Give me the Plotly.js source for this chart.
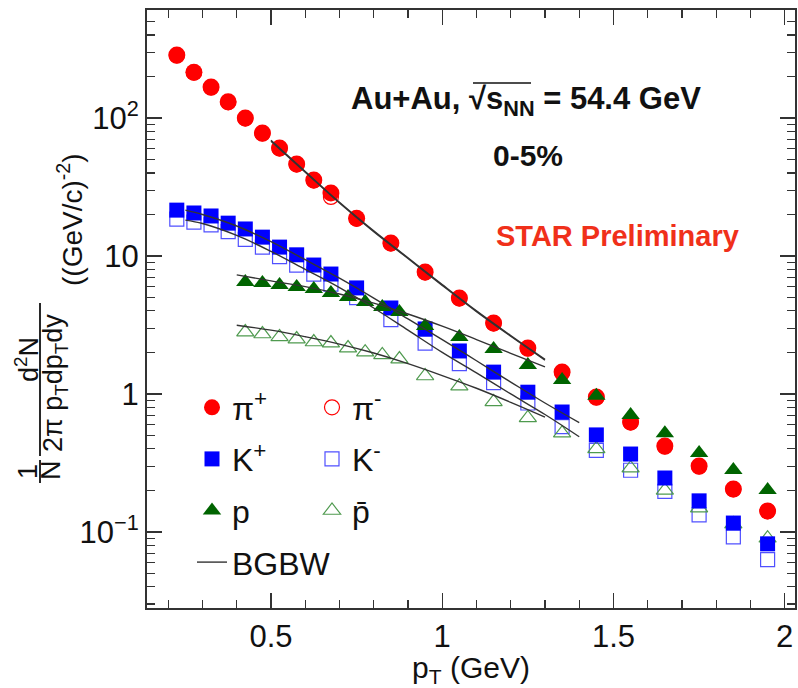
<!DOCTYPE html>
<html><head><meta charset="utf-8">
<script src="https://cdn.plot.ly/plotly-3.0.1.min.js"></script>
<style>html,body{margin:0;padding:0;background:#fff}#chart{width:798px;height:688px}</style>
</head><body><div id="chart"></div>
<script>
// ---- data ----
const pionPt = [0.225,0.275,0.325,0.375,0.425,0.475,0.525,0.575,0.625,0.675,0.75,0.85,0.95,1.05,1.15,1.25,1.35,1.45,1.55,1.65,1.75,1.85,1.95];
const kaonPt = [0.225,0.275,0.325,0.375,0.425,0.475,0.525,0.575,0.625,0.675,0.75,0.85,0.95,1.05,1.15,1.25,1.35,1.45,1.55,1.65,1.75,1.85,1.95];
const protonPt = [0.425,0.475,0.525,0.575,0.625,0.675,0.725,0.775,0.825,0.875,0.95,1.05,1.15,1.25,1.35,1.45,1.55,1.65,1.75,1.85,1.95];
const piPlus = [286,215,168,131,100,77.8,60.6,46.4,35.6,28.6,18.8,12.4,7.65,4.96,3.27,2.15,1.44,0.95,0.627,0.42,0.30,0.205,0.142];
const piMinus = [283,213,166,130,99,77,60,46,35.2,26.8,18.6,12.3,7.58,4.91,3.24,2.13,1.43,0.94,0.62,0.415,0.297,0.203,0.141];
const kPlus = [21.5,20.5,19.5,17.3,15.7,13.7,11.6,10.2,8.6,7.4,5.87,4.2,2.96,2.05,1.44,1.03,0.74,0.505,0.367,0.246,0.168,0.116,0.082];
const kMinus = [18.5,17.6,16.8,15.0,13.2,11.6,9.9,8.6,7.4,6.25,4.99,3.46,2.34,1.66,1.21,0.86,0.58,0.39,0.28,0.197,0.133,0.092,0.063];
const proton = [6.49,6.37,6.17,5.96,5.77,5.40,5.05,4.64,4.27,3.93,3.11,2.59,2.12,1.62,1.26,0.97,0.705,0.52,0.373,0.281,0.201];
const antiproton = [2.81,2.72,2.59,2.50,2.38,2.34,2.15,2.01,1.92,1.79,1.35,1.14,0.875,0.67,0.52,0.40,0.29,0.20,0.149,0.114,0.09];

// BGBW fit curves
const fitPiPt = [0.5,0.6,0.7,0.8,0.9,1.0,1.1,1.2,1.3];
const fitPiPlus = [69,41,24.5,15.2,9.7,6.2,4.0,2.65,1.78];
const fitPiMinus = [68,40.5,24.2,15.0,9.6,6.12,3.95,2.62,1.76];
const fitKPt = [0.25,0.3,0.4,0.5,0.6,0.7,0.8,0.9,1.0,1.1,1.2,1.3,1.4];
const fitKPlus = [21.5,20,16.5,12.7,9.4,6.9,4.95,3.5,2.48,1.74,1.22,0.86,0.62];
const fitKMinus = [18.2,17.2,14.1,10.8,8.0,5.9,4.2,2.9,2.0,1.42,1.0,0.71,0.49];
const fitPPt = [0.4,0.5,0.6,0.7,0.8,0.9,1.0,1.1,1.2,1.3];
const fitP = [7.3,6.6,6.0,5.3,4.55,3.8,3.1,2.48,1.97,1.57];
const fitPbar = [3.15,2.9,2.6,2.3,1.98,1.66,1.36,1.1,0.87,0.68];

const yTickVals = [0.1,1,10,100];
const yTickText = ['10<sup>\u22121</sup>','1','10','10<sup>2</sup>'];

// ---- layout helpers ----
const W=798,H=688,L=147,R=3,T=10,B=80;
const pw=W-L-R, ph=H-T-B;
const px=p=>(p-L)/pw;
const py=p=>(H-B-p)/ph;
const FONT='Liberation Sans, Arial, Helvetica, sans-serif';

const RED='#ff0000', BLUE='#0000ff', GREEN='#006400', LGREEN='#4f9a4f', LBLUE='#5050ff';

const traces = [
  {x:pionPt,y:piMinus,name:'\u03c0<sup>-</sup>',mode:'markers',legend:'legend2',legendgroup:'b1',legendrank:1,
   marker:{symbol:'circle-open',size:15,color:RED,line:{width:1.2,color:RED}}},
  {x:pionPt,y:piPlus,name:'\u03c0<sup>+</sup>',mode:'markers',legend:'legend',legendgroup:'a1',legendrank:1,
   marker:{symbol:'circle',size:17,color:RED}},
  {x:kaonPt,y:kMinus,name:'K<sup>-</sup>',mode:'markers',legend:'legend2',legendgroup:'b2',legendrank:2,
   marker:{symbol:'square-open',size:14,color:LBLUE,line:{width:1.2,color:LBLUE}}},
  {x:protonPt,y:antiproton,name:'p\u0304',mode:'markers',legend:'legend2',legendgroup:'b3',legendrank:3,
   marker:{symbol:'triangle-up-open',size:15,color:LGREEN,line:{width:1.2,color:LGREEN}}},
  {x:kaonPt,y:kPlus,name:'K<sup>+</sup>',mode:'markers',legend:'legend',legendgroup:'a2',legendrank:2,
   marker:{symbol:'square',size:15,color:BLUE}},
  {x:protonPt,y:proton,name:'p',mode:'markers',legend:'legend',legendgroup:'a3',legendrank:3,
   marker:{symbol:'triangle-up',size:16,color:GREEN}},
];
const fitStyle={color:'#333',width:1.4,shape:'spline'};
[[fitPiPt,fitPiPlus],[fitPiPt,fitPiMinus],[fitKPt,fitKPlus],[fitKPt,fitKMinus],[fitPPt,fitP],[fitPPt,fitPbar]].forEach((f,i)=>{
  traces.push({x:f[0],y:f[1],mode:'lines',line:fitStyle,name:'BGBW',
    showlegend:i===0,legend:'legend',legendgroup:'a4',legendrank:4});
});

const minorVals=[];
[0.01,0.1,1,10,100].forEach(d=>{for(let k=2;k<=9;k++)minorVals.push(d*k);});

const ann=(x,y,text,size,extra)=>Object.assign({xref:'paper',yref:'paper',x:px(x),y:py(y),text:text,showarrow:false,
  xanchor:'center',yanchor:'middle',font:{family:FONT,size:size,color:'#111'}},extra||{});

const annotations=[
  ann(526,101,'<b>Au+Au, \u221as<sub>NN</sub> = 54.4 GeV</b>',31),
  ann(528,156,'<b>0-5%</b>',30),
  ann(617,236,'<b>STAR Preliminary</b>',29,{font:{family:FONT,size:29,color:'#f0301a'}}),
  ann(28,472,'1',27,{textangle:-90}),
  ann(51,470,'N',27,{textangle:-90}),
  ann(27,360,'d<sup>2</sup>N',27,{textangle:-90}),
  ann(55,383,'2\u03c0 p<sub>T</sub>dp<sub>T</sub>dy',27,{textangle:-90}),
  ann(70,220,'((GeV/c)<sup>-2</sup>)',28,{textangle:-90}),
];
const line=(x0,y0,x1,y1,w)=>({type:'line',xref:'paper',yref:'paper',x0:px(x0),y0:py(y0),x1:px(x1),y1:py(y1),line:{color:'#111',width:w||1.8}});
const shapes=[
  line(40,460,40,483),
  line(40,303,40,456),
  line(473,83,531,83,1.5),
];

const axisCommon={showgrid:false,zeroline:false,showline:true,linecolor:'#333',linewidth:2,mirror:'allticks',
  ticks:'inside',ticklen:15,tickwidth:1.3,tickcolor:'#333',
  tickfont:{family:FONT,size:31,color:'#111'}};

const layout={
  width:W,height:H,margin:{l:L,r:R,t:T,b:B},paper_bgcolor:'#fff',plot_bgcolor:'#fff',
  font:{family:FONT,color:'#111'},
  xaxis:Object.assign({},axisCommon,{range:[0.138,2.03],tick0:0,dtick:0.5,
    minor:{dtick:0.1,ticks:'inside',ticklen:8,tickcolor:'#333',tickwidth:1.2,showgrid:false},
    title:{text:'p<sub>T</sub> (GeV)',font:{family:FONT,size:30,color:'#111'},standoff:2}}),
  yaxis:Object.assign({},axisCommon,{type:'log',range:[Math.log10(0.0281),2.783],tickvals:yTickVals,ticktext:yTickText,
    ticklabelstandoff:0,
    minor:{tickvals:minorVals,ticks:'inside',ticklen:8,tickcolor:'#333',tickwidth:1.2,showgrid:false}}),
  legend:{x:px(192),y:py(380),xanchor:'left',yanchor:'top',bgcolor:'rgba(0,0,0,0)',borderwidth:0,
    font:{family:FONT,size:32,color:'#111'},tracegroupgap:7,itemwidth:30,traceorder:'grouped'},
  legend2:{x:px(312),y:py(380),xanchor:'left',yanchor:'top',bgcolor:'rgba(0,0,0,0)',borderwidth:0,
    font:{family:FONT,size:32,color:'#111'},tracegroupgap:7,itemwidth:30,traceorder:'grouped'},
  showlegend:true,
  annotations:annotations,shapes:shapes
};
Plotly.newPlot('chart',traces,layout,{displayModeBar:false,staticPlot:true});
</script></body></html>
